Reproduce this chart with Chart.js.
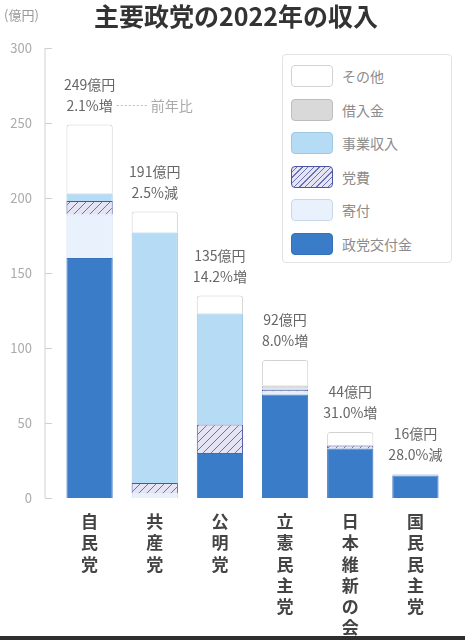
<!DOCTYPE html>
<html>
<head>
<meta charset="utf-8">
<script src="https://cdn.jsdelivr.net/npm/chart.js@4.4.1/dist/chart.umd.min.js"></script>
<style>
  body { margin: 0; background: #fff; font-family: "Noto Sans CJK JP", sans-serif; }
  #wrap { position: relative; width: 465px; height: 640px; }
  #legend { position: absolute; left: 282px; top: 54px; width: 168px; height: 207px;
            border: 1px solid #e2e2e2; border-radius: 4px; background: #fff; }
  .item { position: absolute; left: 8px; height: 22px; }
  .box { position: absolute; left: 0; top: 0; width: 40px; height: 20px; border: 1px solid #ccc; border-radius: 4px; }
  .lbl { position: absolute; left: 51px; top: 0; font-size: 14px; line-height: 22px; color: #8c8c8c; white-space: nowrap; }
  #strip { position: absolute; left: 0; bottom: 0; width: 465px; height: 4px; background: #2e2e2e; }
</style>
</head>
<body>
<div id="wrap">
  <canvas id="chart" width="465" height="640"></canvas>
  <div id="legend"></div>
  <div id="strip"></div>
</div>
<script>
// 政党
var parties = ['自民党', '共産党', '公明党', '立憲民主党', '日本維新の会', '国民民主党'];

// 収入の内訳 (億円)
var koufukin = [160, 0, 30, 69, 33, 15];   // 政党交付金
var kifu = [29, 3, 0, 2, 0, 1];            // 寄付
var touhi = [9, 7, 19, 1, 2, 0];           // 党費
var jigyou = [5, 167, 74, 1, 0, 0];        // 事業収入
var kariire = [0, 0, 0, 2, 0, 0];          // 借入金
var sonota = [46, 14, 12, 17, 9, 0];       // その他

// 合計と前年比
var totalLabels = ['249億円', '191億円', '135億円', '92億円', '44億円', '16億円'];
var changeLabels = ['2.1%増', '2.5%減', '14.2%増', '8.0%増', '31.0%増', '28.0%減'];

var titleText = '主要政党の2022年の収入';

// 党費のハッチング
function makeHatch() {
    var c = document.createElement('canvas');
    c.width = 8; c.height = 8;
    var g = c.getContext('2d');
    g.fillStyle = '#e4e4f4';
    g.fillRect(0, 0, 8, 8);
    g.strokeStyle = '#6870b8';
    g.lineWidth = 1;
    g.beginPath();
    g.moveTo(0, 8); g.lineTo(8, 0);
    g.moveTo(-2, 2); g.lineTo(2, -2);
    g.moveTo(6, 10); g.lineTo(10, 6);
    g.stroke();
    return g.createPattern(c, 'repeat');
}

var datasets = [
    { label: '政党交付金', data: koufukin, backgroundColor: '#3a7cc8', borderColor: '#3572bb', css: '#3a7cc8' },
    { label: '寄付', data: kifu, backgroundColor: '#e9f2fc', borderColor: '#c8d8ea', css: '#e9f2fc' },
    { label: '党費', data: touhi, backgroundColor: makeHatch(), borderColor: '#4a55a4',
      css: 'repeating-linear-gradient(135deg, #e4e4f4 0 3px, #6870b8 3px 4px)' },
    { label: '事業収入', data: jigyou, backgroundColor: '#b5dcf4', borderColor: '#9cc8e2', css: '#b5dcf4' },
    { label: '借入金', data: kariire, backgroundColor: '#d9d9d9', borderColor: '#bdbdbd', css: '#d9d9d9' },
    { label: 'その他', data: sonota, backgroundColor: '#ffffff', borderColor: '#d2d2d2', css: '#ffffff' }
];
datasets.forEach(function (d) {
    d.borderWidth = 1;
    d.borderRadius = 3;
    d.barPercentage = 0.71;
    d.categoryPercentage = 1;
});

// タイトル・合計・前年比・軸を描くプラグイン
var annotate = {
    id: 'annotate',
    afterDatasetsDraw: function (chart) {
        var ctx = chart.ctx;
        var x = chart.scales.x, y = chart.scales.y;
        ctx.save();
        ctx.textBaseline = 'middle';
        ctx.textAlign = 'center';
        ctx.fillStyle = '#333';
        ctx.font = 'bold 25px "Noto Sans CJK JP"';
        ctx.fillText(titleText, 236, 16);

        ctx.font = '14px "Noto Sans CJK JP"';
        ctx.fillStyle = '#666';
        parties.forEach(function (p, i) {
            var total = 0;
            datasets.forEach(function (d) { total += d.data[i]; });
            var px = x.getPixelForValue(i);
            var py = y.getPixelForValue(total);
            ctx.fillText(totalLabels[i], px, py - 40);
            ctx.fillText(changeLabels[i], px, py - 19);
            if (i === 0) {
                var w = ctx.measureText(changeLabels[i]).width;
                ctx.strokeStyle = '#bbb';
                ctx.setLineDash([2, 2]);
                ctx.beginPath();
                ctx.moveTo(px + w / 2 + 4, py - 19);
                ctx.lineTo(px + w / 2 + 36, py - 19);
                ctx.stroke();
                ctx.setLineDash([]);
                ctx.fillStyle = '#aaa';
                ctx.textAlign = 'left';
                ctx.fillText('前年比', px + w / 2 + 38, py - 19);
                ctx.textAlign = 'center';
                ctx.fillStyle = '#666';
            }
        });
        // 縦軸
        var ax = chart.chartArea.left - 12;
        ctx.strokeStyle = '#d0d0d0';
        ctx.lineWidth = 1;
        ctx.beginPath();
        ctx.moveTo(ax, y.top);
        ctx.lineTo(ax, y.bottom);
        y.ticks.forEach(function (t) {
            var ty = Math.round(y.getPixelForValue(t.value)) + 0.5;
            ctx.moveTo(ax, ty);
            ctx.lineTo(ax + 7, ty);
        });
        ctx.stroke();
        ctx.fillStyle = '#999';
        ctx.font = '13px "Noto Sans CJK JP"';
        ctx.textAlign = 'left';
        ctx.fillText('(億円)', 4, 15);
        ctx.restore();
    }
};

var ctx = document.getElementById('chart').getContext('2d');
var chart = new Chart(ctx, {
    type: 'bar',
    data: {
        labels: parties.map(function (p) { return p.split(''); }),
        datasets: datasets
    },
    options: {
        responsive: false,
        animation: false,
        layout: { padding: { left: 0, right: 17, top: 48, bottom: 1 } },
        scales: {
            x: {
                stacked: true,
                grid: { display: false },
                border: { display: false },
                ticks: {
                    color: '#444',
                    font: { family: '"Noto Sans CJK JP"', size: 17, weight: 'bold', lineHeight: 1.25 },
                    padding: 5, maxRotation: 0, autoSkip: false
                },
                afterFit: function (scale) { scale.height = 141; }
            },
            y: {
                stacked: true,
                min: 0, max: 300,
                grid: { display: false },
                border: { display: false },
                ticks: {
                    stepSize: 50, color: '#aaa', padding: 17,
                    font: { family: '"Noto Sans CJK JP"', size: 13 }
                },
                afterFit: function (scale) { scale.width = 57; }
            }
        },
        plugins: {
            title: { display: false },
            legend: { display: false },
            tooltip: { enabled: false }
        }
    },
    plugins: [annotate]
});

// 凡例 (逆順)
var legend = document.getElementById('legend');
datasets.slice().reverse().forEach(function (d, i) {
    var item = document.createElement('div');
    item.className = 'item';
    item.style.top = (10 + i * 33.5) + 'px';
    item.innerHTML = '<div class="box" style="background:' + d.css + ';border-color:' + d.borderColor + '"></div>' +
        '<div class="lbl">' + d.label + '</div>';
    legend.appendChild(item);
});
</script>
</body>
</html>
